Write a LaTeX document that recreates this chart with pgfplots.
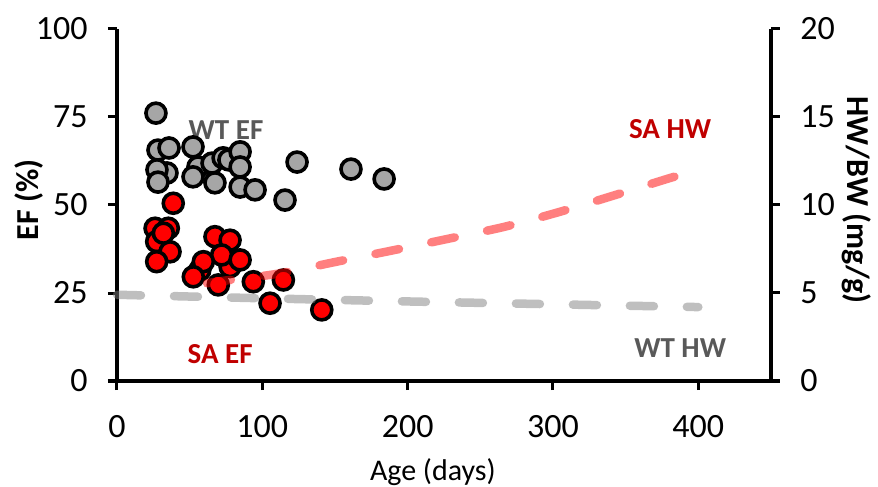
\documentclass[border=0pt]{standalone}
\usepackage{fontspec}
\setmainfont{Carlito}
\usepackage{pgfplots}
\pgfplotsset{compat=1.18}
\definecolor{dotgrey}{HTML}{A6A6A6}
\definecolor{dotred}{HTML}{FF0000}
\definecolor{txtgrey}{HTML}{595959}
\definecolor{txtred}{HTML}{C00000}
\definecolor{lngrey}{HTML}{7F7F7F}

\pgfplotsset{
  base/.style={
    scale only axis, width=327pt, height=176pt,
    xmin=0, xmax=450, clip=false,
    tick align=outside, major tick length=4.5pt,
    every tick/.style={line width=1.5pt, black},
    axis line style={line width=1.6pt},
    /pgf/number format/assume math mode=true,
    ticklabel style={font=\fontsize{17}{20}\selectfont, inner sep=0pt},
  },
  dot/.style={only marks, mark=*, mark size=5pt,
    mark options={fill=#1, draw=black, line width=1.8pt}},
  dashline/.style={no marks, smooth, draw=#1, draw opacity=0.5,
    line width=4.25pt, line cap=round, dash pattern=on 12pt off 16.5pt},
}
\tikzset{note/.style={font=\bfseries\fontsize{14.5}{16}\selectfont, text=#1}}

\begin{document}
\begin{tikzpicture}
\useasboundingbox (-58.5pt,-53pt) rectangle (380.5pt,190.5pt);

\begin{axis}[base,
  ymin=0, ymax=100,
  axis x line*=bottom, axis y line*=left,
  x axis line style={shorten <=-4.5pt, shorten >=-4.5pt},
  xtick={0,100,200,300,400}, ytick={0,25,50,75,100},
  xticklabel style={anchor=north, yshift=-12.5pt},
  yticklabel style={anchor=east, xshift=-10pt},
  xlabel={Age (days)},
  every axis x label/.style={at={(axis description cs:0.483,0)}, anchor=base,
    yshift=-49.5pt, font=\fontsize{15}{17}\selectfont},
  ylabel={EF (\%)},
  every axis y label/.style={at={(axis description cs:0,0.514)}, xshift=-44pt,
    rotate=90, anchor=center, font=\bfseries\fontsize{16}{18}\selectfont},
]
% WT EF
\addplot[dot=dotgrey] coordinates {
(26.8,76.1) (28.2,65.6) (35.8,66.2) (52.3,66.5) (55.7,60.8) (65.4,61.9)
(73,63.4) (77,62.8) (84.7,65.1) (84.7,60.8) (34.4,59.1) (27.5,60)
(28.2,56.5) (67.4,56.3) (84.7,55.1) (95,54.3) (52.3,58) (115.6,51.4)
(123.9,62.2) (161,60.2) (183.8,57.4)
};
% SA EF
\addplot[dot=dotred] coordinates {
(38.7,50.5) (26.2,43.4) (35.3,43.4) (27.3,39.6) (36.5,36.7) (27.3,33.9)
(31.9,42) (67.4,41) (77.8,40) (77.8,32.5) (72,35.8) (84.7,34.4)
(57,31.5) (59.4,33.9) (52.5,29.6) (69.7,27.3) (93.8,28.2) (114.5,28.7)
(105.3,22.1) (140.9,20.2)
};
\node[note=txtgrey] at (axis cs:75,71.3) {WT EF};
\node[note=txtred] at (axis cs:71,7.7) {SA EF};
\node[note=txtred] at (axis cs:380.6,71.6) {SA HW};
\node[note=txtgrey] at (axis cs:387.5,9.4) {WT HW};
\end{axis}

\begin{axis}[base,
  ymin=0, ymax=20,
  axis x line=none, axis y line*=right,
  ytick={0,5,10,15,20},
  yticklabel style={anchor=west, xshift=10pt},
  ylabel={HW/BW (mg/g)},
  every axis y label/.style={at={(axis description cs:1,0.514)}, xshift=43pt,
    rotate=-90, anchor=center, font=\bfseries\fontsize{16}{18}\selectfont},
]
% SA HW
\addplot[dashline=dotred] coordinates {
(62,5.55) (72,5.68) (111,6.1) (150,6.76) (189,7.41) (229,8.1)
(267,8.77) (305,9.62) (343,10.57) (380,11.52) (390,11.75)
};
% WT HW
\addplot[dashline=lngrey] coordinates {
(0,4.9) (100,4.7) (200,4.52) (300,4.36) (400,4.2)
};
\end{axis}
\end{tikzpicture}
\end{document}
